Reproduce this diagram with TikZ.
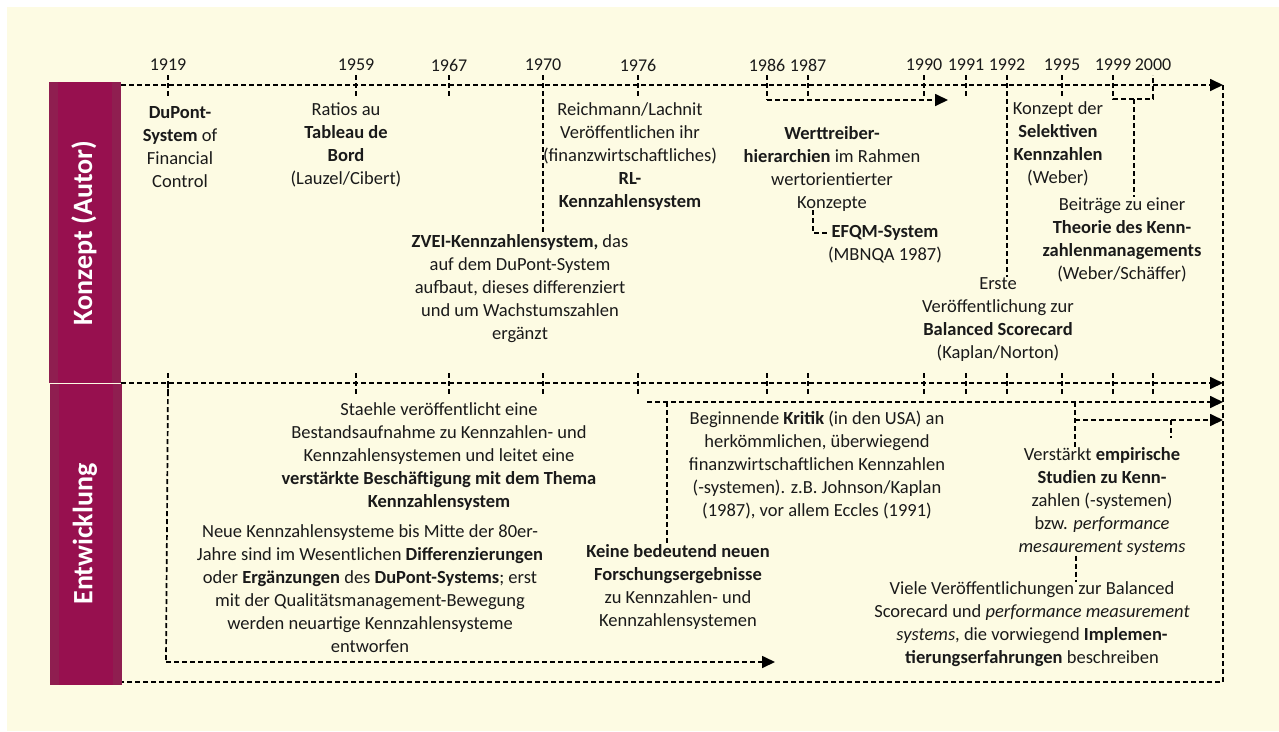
\documentclass[tikz,border=0pt]{standalone}
\usepackage{fontspec}
\setmainfont{Carlito}
\usetikzlibrary{arrows.meta}
\definecolor{cream}{HTML}{FDFBE3}
\definecolor{barA}{HTML}{8F1E50}
\definecolor{barB}{HTML}{97104F}
\definecolor{ink}{HTML}{1A1A1A}
\tikzset{
 dl/.style={line width=1.7pt, dash pattern=on 5pt off 3pt, black},
 arr/.style={dl, -{Triangle[length=13pt,width=12pt]}},
 txt/.style={align=center, inner sep=0pt, font=\fontsize{18.5}{23}\selectfont, text=ink},
 yr/.style={inner sep=0pt, font=\fontsize{18}{22}\selectfont, text=ink},
 vlab/.style={rotate=90, text=white, font=\fontsize{28}{32}\selectfont\bfseries, inner sep=0pt}
}
\begin{document}
\begin{tikzpicture}[x=1pt,y=-1pt]
\useasboundingbox (0,0) rectangle (1279,731);
\fill[white] (0,0) rectangle (1279,731);
\fill[cream] (7,7) rectangle (1279,731);
% bars
\fill[barA] (49,82) rectangle (121,383);
\fill[barB] (58,82) rectangle (112,383);
\fill[barA] (50,384) rectangle (122,685);
\fill[barB] (59,384) rectangle (113,685);
\node[vlab] (konzept) at (84,233) {Konzept (Autor)};
\node[vlab] (entw) at (85,534) {Entwicklung};
% years
\foreach \n/\x in {1919/168,1959/356,1967/449,1970/543,1976/638,1986/767,1987/808,1990/924,1991/966,1992/1007,1995/1062,1999/1113,2000/1153}{
  \node[yr] (y\n) at (\x,65) {\n};
  \coordinate (t\n) at (\x,85);
  \coordinate (m\n) at (\x,383);
}
% top axis
\coordinate (topL) at (121,85);
\coordinate (topR) at (1223,85);
\draw[arr] (topL) -- (topR);
\foreach \n in {1919,1959,1967,1976,1990,1991,1995}{
  \draw[dl] ([yshift=10pt]t\n) -- ([yshift=-13pt]t\n);
}
% texts top
\node[txt] (dupont) at (180,147.5) {\textbf{DuPont-}\\\textbf{System} of\\Financial\\Control};
\node[txt] (ratios) at (346,144.5) {Ratios au\\\textbf{Tableau de}\\\textbf{Bord}\\(Lauzel/Cibert)};
\node[txt] (reich) at (630,157) {Reichmann/Lachnit\\Veröffentlichen ihr\\(finanzwirtschaftliches)\\\textbf{RL-}\\\textbf{Kennzahlensystem}};
\node[txt] (wert) at (832,168.5) {\textbf{Werttreiber-}\\\textbf{hierarchien} im Rahmen\\wertorientierter\\Konzepte};
\node[txt] (efqm) at (885,244.5) {\textbf{EFQM-System}\\(MBNQA 1987)};
\node[txt] (zvei) at (520,288.5) {\textbf{ZVEI-Kennzahlensystem,} das\\auf dem DuPont-System\\aufbaut, dieses differenziert\\und um Wachstumszahlen\\ergänzt};
\node[txt] (selek) at (1058,143.5) {Konzept der\\\textbf{Selektiven}\\\textbf{Kennzahlen}\\(Weber)};
\node[txt] (beitr) at (1122,239.5) {Beiträge zu einer\\\textbf{Theorie des Kenn-}\\\textbf{zahlenmanagements}\\(Weber/Schäffer)};
\node[txt] (erste) at (998,319.5) {Erste\\Veröffentlichung zur\\\textbf{Balanced Scorecard}\\(Kaplan/Norton)};
% top connectors
\draw[dl] ([yshift=10pt]t1970) -- (t1970 |- zvei.north);
\draw[dl] ([yshift=10pt]t1992) -- (t1992 |- erste.north);
\draw[dl] ([yshift=10pt]t1986) -- ([yshift=-15pt]t1986) coordinate (b86);
\draw[dl] ([yshift=10pt]t1987) -- ([yshift=-15pt]t1987);
\draw[arr] (b86) -- (948,100);
\draw[dl] (813,210) -- (813,233) -- (efqm.west |- 0,233);
\draw[dl] ([yshift=10pt]t1999) -- ([yshift=-14pt]t1999) -- ([yshift=-14pt]t2000) -- ([yshift=10pt]t2000);
\draw[dl] (1134,99) -- (1134,0 |- beitr.north);
% frame right and bottom
\coordinate (botR) at (1223,682);
\coordinate (botL) at (122,682);
\draw[dl] (topR) -- (botR) -- (botL);
% middle axis
\coordinate (midL) at (121,383);
\draw[arr] (midL) -- (1223,383);
\foreach \n in {1919,1959,1967,1970,1976,1986,1987,1990,1991,1992,1995,1999,2000}{
  \draw[dl] ([yshift=10pt]m\n) -- ([yshift=-12pt]m\n);
}
% texts bottom
\node[txt] (staehle) at (439,456.5) {Staehle veröffentlicht eine\\Bestandsaufnahme zu Kennzahlen- und\\Kennzahlensystemen und leitet eine\\\textbf{verstärkte Beschäftigung mit dem Thema}\\\textbf{Kennzahlensystem}};
\node[txt] (neue) at (370,589) {Neue Kennzahlensysteme bis Mitte der 80er-\\Jahre sind im Wesentlichen \textbf{Differenzierungen}\\oder \textbf{Ergänzungen} des \textbf{DuPont-Systems}; erst\\mit der Qualitätsmanagement-Bewegung\\werden neuartige Kennzahlensysteme\\entworfen};
\node[txt] (kritik) at (817,465) {Beginnende \textbf{Kritik} (in den USA) an\\herkömmlichen, überwiegend\\finanzwirtschaftlichen Kennzahlen\\(-systemen). z.B. Johnson/Kaplan\\(1987), vor allem Eccles (1991)};
\node[txt] (keine) at (678,586.5) {\textbf{Keine bedeutend neuen}\\\textbf{Forschungsergebnisse}\\zu Kennzahlen- und\\Kennzahlensystemen};
\node[txt] (empir) at (1102,501.5) {Verstärkt \textbf{empirische}\\\textbf{Studien zu Kenn-}\\zahlen (-systemen)\\bzw. \textit{performance}\\\textit{mesaurement systems}};
\node[txt] (viele) at (1032,624.5) {Viele Veröffentlichungen zur Balanced\\Scorecard und \textit{performance measurement}\\\textit{systems}, die vorwiegend \textbf{Implemen-}\\\textbf{tierungserfahrungen} beschreiben};
% bottom connectors
\draw[dl] (m1919) -- (166,662);
\draw[arr] (166,662) -- (775,662);
\draw[arr] (647,402) -- (1223,402);
\draw[dl] (667,402) -- (667,0 |- keine.north);
\draw[dl] (1075,402) -- (1075,0 |- empir.north);
\draw[arr] (1075,420) -- (1223,420);
\draw[dl] (1171,420) -- (1171,438);
\draw[dl] (1076,0 |- empir.south) -- (1076,0 |- viele.north);
\end{tikzpicture}
\end{document}
